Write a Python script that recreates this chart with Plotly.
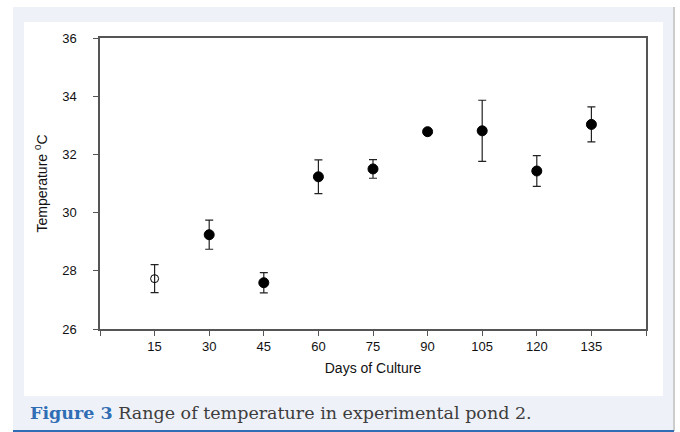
import plotly.graph_objects as go

days = [15, 30, 45, 60, 75, 90, 105, 120, 135]
temp_mean = [27.73, 29.24, 27.59, 31.23, 31.50, 32.78, 32.81, 31.43, 33.03]
temp_err = [0.48, 0.50, 0.35, 0.58, 0.32, 0.05, 1.05, 0.53, 0.60]
marker_symbols = ["circle-open"] + ["circle"] * 8
marker_sizes = [8] + [10] * 8

x_tickvals = [15, 30, 45, 60, 75, 90, 105, 120, 135]
x_ticktext = ["15", "30", "45", "60", "75", "90", "105", "120", "135"]
x_edge_ticks = [0, 150]
y_tickvals = [26, 28, 30, 32, 34, 36]

W, H = 680, 432
L, R, T, B = 100, 34, 38, 103
pw, ph = W - L - R, H - T - B


def px_x(p):
    return (p - L) / pw


def px_y(p):
    return (H - B - p) / ph


fig = go.Figure()
fig.add_trace(go.Scatter(
    x=days, y=temp_mean, mode="markers",
    marker=dict(symbol=marker_symbols, size=marker_sizes, color="#000000",
                opacity=1, line=dict(color="#000000", width=1)),
    error_y=dict(type="data", array=temp_err, visible=True,
                 color="#222222", thickness=1.2, width=4),
    showlegend=False, cliponaxis=False,
))

shapes = [
    dict(type="rect", xref="paper", yref="paper", layer="below",
         x0=px_x(13), x1=px_x(673), y0=px_y(7), y1=px_y(431),
         fillcolor="#eff1f8", line=dict(width=0)),
    dict(type="rect", xref="paper", yref="paper", layer="below",
         x0=px_x(24), x1=px_x(663), y0=px_y(22), y1=px_y(396),
         fillcolor="#ffffff", line=dict(width=0)),
    dict(type="line", xref="paper", yref="paper", layer="below",
         x0=px_x(674), x1=px_x(674), y0=px_y(7), y1=px_y(431),
         line=dict(color="#9a9a9a", width=1)),
    dict(type="line", xref="paper", yref="paper", layer="below",
         x0=px_x(13), x1=px_x(674), y0=px_y(431), y1=px_y(431),
         line=dict(color="#2f6db5", width=2)),
]

fig.update_layout(
    width=W, height=H,
    margin=dict(l=L, r=R, t=T, b=B, pad=0),
    paper_bgcolor="#ffffff", plot_bgcolor="#ffffff",
    font=dict(family="Liberation Sans, Arial, sans-serif", color="#111111", size=13),
    shapes=shapes,
    xaxis=dict(range=[0, 150], tickvals=x_tickvals, ticktext=x_ticktext,
               ticks="outside", ticklen=5, tickwidth=1, tickcolor="#555555",
               minor=dict(tickvals=x_edge_ticks, ticks="outside", ticklen=5,
                          tickwidth=1, tickcolor="#555555", showgrid=False),
               showline=True, linecolor="#555555", linewidth=1.5, mirror=True,
               showgrid=False, zeroline=False,
               tickfont=dict(size=13),
               title=dict(text="Days of Culture", font=dict(size=14), standoff=10)),
    yaxis=dict(range=[26, 36], tickvals=y_tickvals,
               ticks="outside", ticklen=5, tickwidth=1, tickcolor="#555555",
               showline=True, linecolor="#555555", linewidth=1.5, mirror=True,
               showgrid=False, zeroline=False, ticklabelstandoff=14,
               tickfont=dict(size=13),
               title=dict(text="Temperature <sup>0</sup>C", font=dict(size=14), standoff=11)),
    annotations=[
        dict(xref="paper", yref="paper", x=px_x(28), y=px_y(413),
             xanchor="left", yanchor="middle", showarrow=False,
             text="<b><span style='color:#2f6db5'>Figure 3</span></b> Range of temperature in experimental pond 2.",
             font=dict(family="DejaVu Serif, serif", size=17.5, color="#3d3d3d")),
    ],
)

fig.write_html("out.html")
